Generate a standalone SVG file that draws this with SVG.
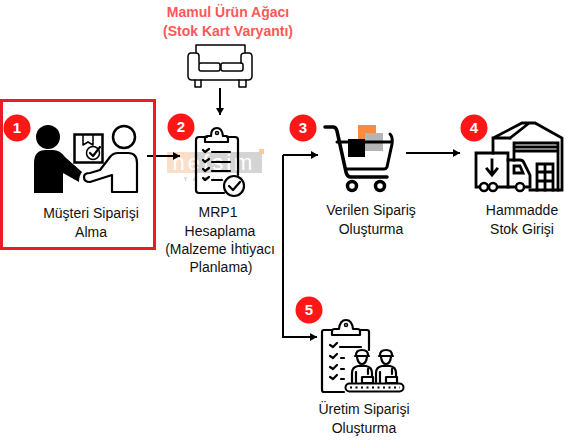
<svg xmlns="http://www.w3.org/2000/svg" width="566" height="447" viewBox="0 0 566 447">
<style>
text{font-family:"Liberation Sans",Arial,sans-serif}
.l{font-size:14px;fill:#111;text-anchor:middle}
.h{font-size:14px;font-weight:bold;fill:#ff5757;text-anchor:middle}
.b{fill:#ff1616}
.n{font-size:15px;font-weight:bold;fill:#fff;text-anchor:middle}
.s{fill:none;stroke:#000;stroke-width:2.200;stroke-linecap:round;stroke-linejoin:round}
.w{fill:none;stroke:#000;stroke-width:2.800;stroke-linecap:square;stroke-linejoin:miter}
.t{fill:none;stroke:#000;stroke-width:1.500;stroke-linecap:round;stroke-linejoin:round}
.c{fill:none;stroke:#000;stroke-width:2}
</style>
<defs>
<marker id="a" markerUnits="userSpaceOnUse" markerWidth="8" markerHeight="9" refX="7" refY="4" orient="auto"><path d="M0 0L7 4L0 8Z" fill="#000"/></marker>
</defs>
<rect width="566" height="447" fill="#fff"/>
<g id="watermark">
<rect x="167" y="152" width="27" height="21" fill="#fbdfc8"/>
<rect x="194" y="152" width="68" height="21" fill="#d4d4d4"/>
<rect x="259" y="149" width="5" height="5" fill="#f9c9a0"/>
<text x="214" y="170" font-size="22" fill="#fff" text-anchor="middle" letter-spacing="3">nefsim</text>
<text x="216" y="181" font-size="6" fill="#aaa" text-anchor="middle" letter-spacing="6">YAZILIM</text>
</g>
<g id="connectors">
<path class="c" d="M147 156H180" marker-end="url(#a)"/>
<path class="c" d="M220 88V115" marker-end="url(#a)"/>
<path class="c" d="M406 153H460" marker-end="url(#a)"/>
<path class="c" d="M283 155V337H317" marker-end="url(#a)"/>
<path class="c" d="M283 155H318" marker-end="url(#a)"/>
</g>
<g id="node-header">
<text class="h" x="228" y="17">Mamul Ürün Ağacı</text>
<text class="h" x="228" y="36">(Stok Kart Varyantı)</text>
<g class="t">
<path d="M196 53V45H245V53M199 63V56Q199 53 196 53H191Q188 53 188 57V76Q188 80 192 80H248Q252 80 252 76V57Q252 53 249 53H245Q241 53 241 56V63"/>
<rect x="199" y="63" width="21" height="8" rx="2"/>
<rect x="221" y="63" width="22" height="8" rx="2"/>
<path d="M195 80V87H201V80M239 80V87H246V80"/>
</g>
</g>
<g id="node-1">
<rect x="1.500" y="100.500" width="153" height="148" fill="none" stroke="#ed1c24" stroke-width="3"/>
<circle cx="48" cy="137" r="12"/>
<path d="M34 193V163Q34 150 46 150H53Q60 150 65 157L82 172Q79 176 79 182L63 173V193Z"/>
<circle cx="124" cy="137" r="11" fill="#fff" stroke="#000" stroke-width="2.500"/>
<path class="s" fill="#fff" stroke-width="2.500" d="M112 192V175L90 182Q84 182 84 177Q84 173 90 173L100 170L110 157Q113 153 118 153H128Q137 153 137 163V192Z"/>
<rect x="74.500" y="134.500" width="28" height="28" fill="#fff" stroke="#000" stroke-width="2.500"/>
<path class="t" d="M83 135V145L88 142L93 145V135"/>
<circle class="t" cx="93" cy="153" r="6.500"/>
<path class="s" d="M90 153L93 156L100 147"/>
<circle class="b" cx="17" cy="128" r="13.500"/>
<text class="n" x="17" y="133">1</text>
<text class="l" x="91" y="218">Müşteri Siparişi</text>
<text class="l" x="91" y="237">Alma</text>
</g>
<g id="node-2">
<path class="s" d="M207 137H199Q196 137 196 140V190Q196 193 199 193H224M238 175V140Q238 137 235 137H227"/>
<path class="s" fill="#fff" d="M205 142V138Q205 136 208 136H211Q211 128 217 128Q222 128 223 136H226Q228 136 228 138V142Z"/>
<circle class="t" cx="217" cy="133" r="1.500"/>
<path class="s" d="M212 152H230M212 162H230M212 171H230M212 180H222"/>
<path class="s" d="M203 150L205 152L209 149M203 160L205 162L209 159M203 169L205 171L209 168M203 178L205 180L209 177"/>
<circle cx="234" cy="186" r="10" fill="#fff" stroke="#000" stroke-width="2.200"/>
<path class="s" d="M229 186L233 190L240 182"/>
<circle class="b" cx="181" cy="127" r="13.500"/>
<text class="n" x="181" y="132">2</text>
<text class="l" x="218" y="217">MRP1</text>
<text class="l" x="220" y="236">Hesaplama</text>
<text class="l" x="220" y="254">(Malzeme İhtiyacı</text>
<text class="l" x="221" y="272">Planlama)</text>
</g>
<g id="node-3">
<rect x="358" y="125" width="18" height="17" fill="#fb8c3f"/>
<rect x="365" y="133" width="18" height="18" fill="#b5b5b5"/>
<path d="M325 127H333Q336 127 337 131L346 172Q347 177 351 177H387" fill="none" stroke="#000" stroke-width="3.500" stroke-linecap="round"/>
<path d="M337 142H392M390 134Q393 137 392 144L387 167Q386 169 384 169H347" fill="none" stroke="#000" stroke-width="3" stroke-linecap="round"/>
<rect x="348" y="139" width="17" height="18"/>
<circle cx="352" cy="186" r="4.500" fill="#fff" stroke="#000" stroke-width="3.500"/>
<circle cx="380" cy="186" r="4.500" fill="#fff" stroke="#000" stroke-width="3.500"/>
<circle class="b" cx="303" cy="128" r="13.500"/>
<text class="n" x="303" y="133">3</text>
<text class="l" x="371" y="215">Verilen Sipariş</text>
<text class="l" x="371" y="234">Oluşturma</text>
</g>
<g id="node-4">
<path class="w" d="M493 153V138L522 123H535L562 138V190H530M510 138L528 124M493 138H510"/>
<path class="w" d="M514 160V143H558V190M516 147H556M516 151H556"/>
<path class="w" d="M537 190V164H553V190M537 172H553M537 181H553M545 164V190"/>
<path class="w" d="M480 187H476V153H508V187H490"/>
<path class="w" d="M508 160H520Q523 160 524 163L530 175V187H526M514 187H508M514 166H520L523 173H514Z"/>
<path class="w" d="M492 160V174M487 169L492 175L497 169"/>
<circle cx="484" cy="187" r="4" fill="#fff" stroke="#000" stroke-width="2.500"/>
<circle cx="493" cy="187" r="4" fill="#fff" stroke="#000" stroke-width="2.500"/>
<circle cx="520" cy="187" r="4" fill="#fff" stroke="#000" stroke-width="2.500"/>
<circle class="b" cx="474" cy="128" r="13.500"/>
<text class="n" x="474" y="133">4</text>
<text class="l" x="522" y="215">Hammadde</text>
<text class="l" x="522" y="234">Stok Girişi</text>
</g>
<g id="node-5">
<path class="s" d="M332 330H324Q322 330 322 332V390Q322 392 324 392H344M369 350V332Q369 330 367 330H360"/>
<path class="s" fill="#fff" d="M332 335V331Q332 329 335 329H339Q340 320 346 320Q352 320 353 329H357Q360 329 360 331V335Z"/>
<circle class="t" cx="346" cy="325" r="1.500"/>
<path class="s" d="M340 347H361M341 358H344M341 369H344M341 379H344"/>
<path class="s" d="M330 345L333 347L337 343M330 356L333 358L337 354M330 367L333 369L337 365M330 377L333 379L337 375"/>
<g class="s">
<path d="M356 355Q356 350 362 350Q368 350 368 355M355 356H369M357 357Q358 364 362 364Q366 364 367 357"/>
<path d="M352 382V373Q352 367 358 366H366Q372 367 372 373V382M356 382V372M368 374V369"/>
<path d="M380 355Q380 350 386 350Q392 350 392 355M379 356H393M381 357Q382 364 386 364Q390 364 391 357"/>
<path d="M376 382V373Q376 367 382 366H390Q396 367 396 373V382M380 382V372M392 374V369"/>
<rect x="362" y="377" width="11" height="6" fill="#fff"/>
<rect x="386" y="377" width="11" height="6" fill="#fff"/>
</g>
<rect x="345.500" y="383.500" width="58" height="8" rx="4" fill="#fff" stroke="#000" stroke-width="2"/>
<path d="M350 387.500H400" stroke="#000" stroke-width="2" stroke-dasharray="2 3.500" fill="none"/>
<circle class="b" cx="309" cy="310" r="13.500"/>
<text class="n" x="309" y="315">5</text>
<text class="l" x="364" y="414">Üretim Siparişi</text>
<text class="l" x="364" y="433">Oluşturma</text>
</g>
</svg>
